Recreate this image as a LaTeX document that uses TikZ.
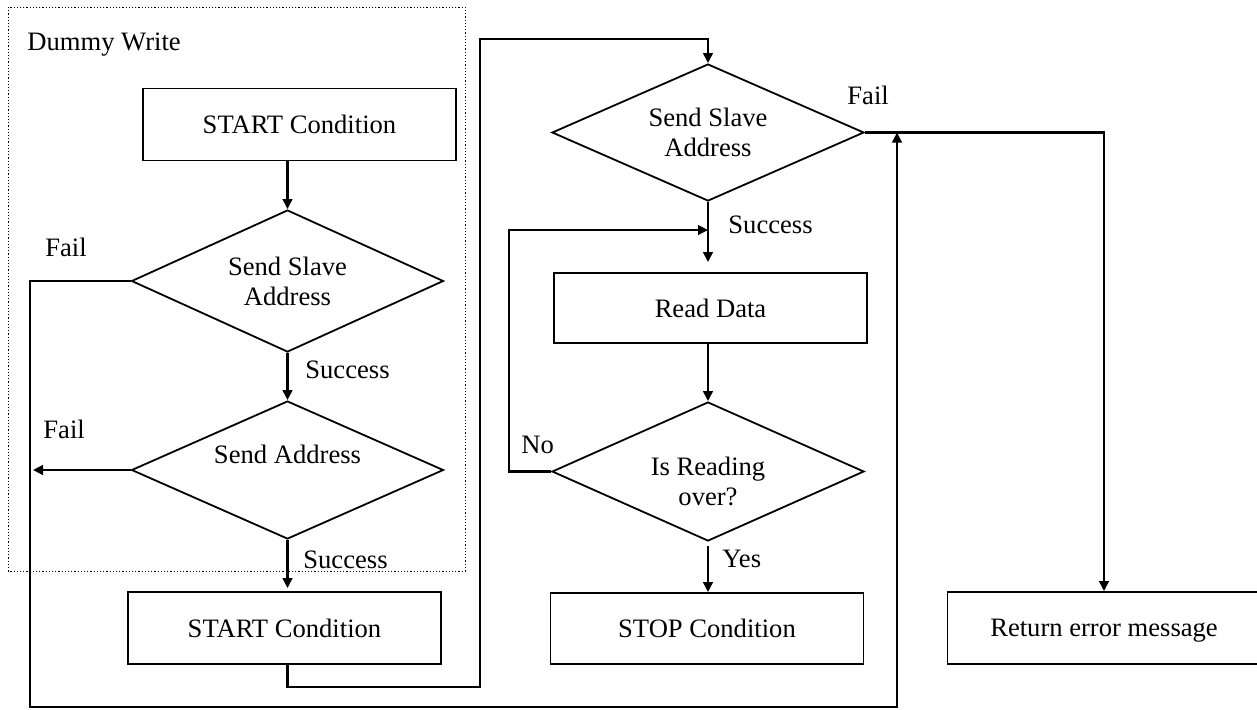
\documentclass[tikz,border=0pt]{standalone}
\usepackage{fontspec}
\setmainfont{Liberation Serif}
\usetikzlibrary{shapes.geometric,arrows.meta,calc}
\begin{document}
\begin{tikzpicture}[x={(0.5pt,0)},y={(0,-0.5pt)},
 font=\fontsize{13.3}{15}\selectfont,
 box/.style={draw,line width=0.9pt,rectangle,inner sep=0pt,text depth=0pt,minimum width=156.5pt,minimum height=36pt},
 dia/.style={draw,line width=0.9pt,diamond,shape aspect=2.2,inner sep=0pt,minimum width=156pt,minimum height=70pt,align=center},
 conn/.style={line width=1.2pt,-{Triangle[length=5pt,width=4.8pt]}},
 lbl/.style={anchor=base west,inner sep=0pt}]
\useasboundingbox (0,0) rectangle (1257,709);
% frame
\draw[line width=0.5pt,dash pattern=on 0.6pt off 1pt] (8,7) rectangle (465,571);
% nodes
\node[box] (s1) at (299.5,124.5) {START Condition};
\node[dia,minimum height=71pt] (d1) at (287.5,281) {Send Slave\\Address};
\node[dia,minimum height=69pt,label={[yshift=8pt]center:Send Address}] (d2) at (287.5,470) {};
\node[box] (s2) at (284.5,628) {START Condition};
\node[dia,minimum height=68.5pt] (d3) at (708,132.5) {Send Slave\\Address};
\node[box,minimum height=35pt] (rd) at (710.5,308) {Read Data};
\node[dia,minimum height=69.5pt,label={[align=center,yshift=-5pt]center:{Is Reading\\over?}}] (d4) at (708,471.5) {};
\node[box,minimum height=35.5pt] (stop) at (707,628.5) {STOP Condition};
\node[box] (err) at (1104,628) {Return error message};
% labels
\node[lbl] (tdw) at (27,50) {Dummy Write};
\node[lbl] (tf1) at (45,256) {Fail};
\node[lbl] (ts1) at (305,378) {Success};
\node[lbl] (tf2) at (43,438) {Fail};
\node[lbl] (ts2) at (303,568) {Success};
\node[lbl] (tf3) at (847,104) {Fail};
\node[lbl] (ts3) at (728,233) {Success};
\node[lbl] (tno) at (521,453) {No};
\node[lbl] (tyes) at (722,567) {Yes};
% coordinates
\coordinate (bl) at (30,707);
\coordinate (br) at (897,707);
\coordinate (f2) at (33,470);
\coordinate (c1) at (480,687);
\coordinate (c2) at (480,39);
\coordinate (lp) at (509,230);
% connectors
\draw[conn] (d1.north |- s1.south) -- (d1.north);
\draw[conn] (d1.south) -- (d2.north);
\draw[conn,shorten >=1.5pt] (d2.south) -- (d2.south |- s2.north);
\draw[conn] (d2.west) -- (f2);
\draw[conn] (d1.west) -| (bl) -- (br) -- (br |- d3.east);
\draw[conn] (d3.east) -| (err.north);
\draw[conn] ($(s2.south)+(3,0)$) |- (c1) -- (c2) -| (d3.north);
\draw[conn,shorten >=5pt] (d3.south) -- (d3.south |- rd.north);
\draw[conn] (d4.north |- rd.south) -- (d4.north);
\draw[conn] (d4.west) -| (lp) -- (lp -| d3.south);
\draw[conn,shorten <=2pt] (d4.south) -- (d4.south |- stop.north);
\end{tikzpicture}
\end{document}
